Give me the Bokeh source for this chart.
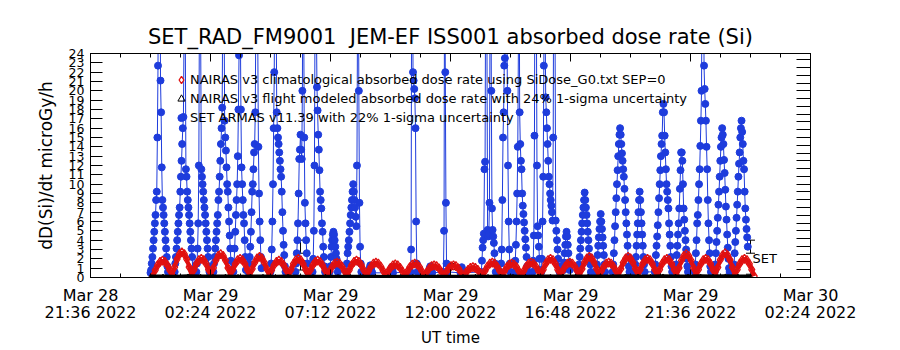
from bokeh.plotting import figure
from bokeh.models import (ColumnDataSource, FixedTicker, LinearAxis, Range1d,
                          Legend, LegendItem, Whisker, TeeHead, Label)
from bokeh.embed import file_html
from bokeh.resources import INLINE

FONT = "DejaVu Sans"
BLUE = "#1e3cdc"
RED = "#e01010"

TITLE = "SET_RAD_FM9001\u00a0 JEM-EF ISS001 absorbed dose rate (Si)"

# time axis: minutes since 2022-03-28 21:36 UT
x_ticks = [0, 288, 576, 864, 1152, 1440, 1728]
x_tick_labels = ["Mar 28\n21:36 2022", "Mar 29\n02:24 2022", "Mar 29\n07:12 2022",
                 "Mar 29\n12:00 2022", "Mar 29\n16:48 2022", "Mar 29\n21:36 2022",
                 "Mar 30\n02:24 2022"]
x_minor = list(range(0, 1729, 72))
y_ticks = list(range(0, 25))
right_ticks = list(range(1, 29))

# SET ARMAS dose rate: passes (start minute, values every SET_DT minutes)
SET_DT = 1.5
set_pass_start = [144, 202, 254, 295, 343, 379, 432, 492, 533, 574, 614, 667, 720, 768,
                  811, 847, 888, 938, 984, 1018, 1061, 1082, 1135, 1171, 1214, 1253,
                  1306, 1354, 1404, 1450, 1498, 1543]
set_pass_vals = [
    [0.5, 0.8, 1.5, 2.2, 3.1, 4.0, 4.9, 5.8, 6.7, 8.3, 9.2, 15.0, 22.7, 40, 60, 40, 21.1, 17.7, 11.8, 8.3, 7.5, 6.7, 5.8, 4.9, 4.0, 3.1, 2.2, 1.2, 0.6],
    [0.6, 1.5, 2.2, 3.1, 4.0, 4.9, 5.8, 6.7, 7.5, 9.2, 10.8, 12.5, 14.3, 16.0, 17.2, 26, 40, 26, 11.6, 10.8, 9.2, 8.3, 7.5, 6.7, 5.8, 4.9, 4.0, 3.1, 2.2, 0.8],
    [0.6, 1.5, 3.1, 5.8, 12.0, 30, 45, 25, 11.6, 10.8, 10.0, 9.2, 8.3, 7.5, 6.7, 5.8, 4.9, 4.0, 3.1, 2.2, 1.2, 0.6],
    [0.6, 1.5, 2.2, 3.1, 4.0, 4.9, 5.8, 6.7, 8.3, 9.2, 10.8, 12.5, 14.3, 16.0, 18.2, 30, 50, 30, 16.8, 15.0, 13.6, 11.8, 10.0, 9.2, 7.5, 6.0, 4.5, 3.1, 1.8, 0.8],
    [0.6, 1.5, 3.1, 4.9, 6.7, 8.3, 10.0, 13.0, 18.0, 23.8, 35, 28, 18.0, 11.8, 10.0, 8.3, 6.7, 5.8, 4.0, 2.2, 0.8],
    [0.6, 1.5, 2.2, 3.3, 4.9, 7.0, 9.2, 10.0, 11.6, 13.4, 14.3, 17.7, 30, 55, 40, 25, 14.0, 9.0, 6.0, 4.0, 2.2, 1.0],
    [0.6, 1.5, 3.0, 6.0, 10.0, 16.0, 22.0, 35, 45, 30, 17.7, 16.0, 15.0, 14.3, 13.4, 12.5, 11.6, 10.8, 9.2, 7.0, 5.0, 3.5, 2.4, 1.2, 0.6],
    [0.6, 1.5, 2.6, 4.0, 5.8, 9.0, 12.7, 13.7, 15.3, 13.7, 12.7, 20, 40, 30, 15.0, 8.0, 5.8, 4.0, 2.6, 1.5, 0.6],
    [0.6, 2.0, 5.0, 12.0, 30, 45, 28, 20.4, 17.9, 15.3, 13.7, 11.5, 9.2, 8.3, 7.4, 5.8, 4.9, 3.3, 2.2, 1.2, 0.6],
    [0.6, 1.2, 2.2, 3.3, 4.0, 4.6, 4.9, 4.6, 4.0, 3.3, 2.6, 2.0, 1.2, 0.6],
    [0.6, 1.5, 2.6, 3.3, 4.0, 4.9, 5.8, 6.7, 7.5, 8.3, 9.2, 10.0, 9.2, 8.3, 7.5, 6.5, 5.5, 12.0, 30, 40, 20, 8.0, 3.3, 1.5, 0.6],
    [0.5, 0.7, 1.0, 1.3, 1.0, 0.7, 0.5],
    [0.5, 0.8, 1.1, 0.8, 0.5],
    [0.6, 3.0, 40, 60, 22.0, 21.1, 20.2, 19.2, 16.0, 6.0, 1.5, 0.6],
    [0.5, 0.7, 1.0, 1.2, 0.9, 0.7, 0.5],
    [0.6, 5.0, 40, 22.0, 8.0, 1.5, 0.6],
    [0.5, 0.8, 1.1, 0.8, 0.5],
    [0.6, 1.8, 3.2, 4.0, 4.7, 11.6, 12.4, 35, 50, 25, 5.1, 4.4, 4.7, 8.0, 30, 45, 20, 7.4, 5.1, 4.4, 3.7, 2.6, 1.5, 0.6],
    [0.6, 1.5, 3.0, 8.3, 15.0, 17.7, 22.7, 23.5, 40, 55, 30, 20, 12.0, 6.0, 3.0, 1.5, 0.6],
    [0.6, 1.8, 3.5, 6.0, 9.0, 14.0, 25, 40, 17.7, 14.3, 12.5, 11.6, 9.0, 7.7, 6.8, 5.9, 5.0, 4.1, 3.2, 2.2, 1.2, 0.6],
    [0.6, 1.8, 4.5, 15.2, 40, 55, 30, 12.0, 5.5, 4.5, 3.3, 2.0, 0.8],
    [0.6, 2.0, 6.0, 10.8, 22.7, 40, 28, 19.3, 17.7, 16.0, 14.3, 12.5, 10.8, 10.0, 9.0, 8.3, 7.7, 7.0, 6.1, 15.0, 40, 55, 25, 6.1, 5.0, 4.0, 3.0, 2.0, 1.2, 0.6],
    [0.8, 1.6, 2.6, 3.5, 4.4, 4.9, 4.4, 3.5, 2.6, 1.6, 0.8],
    [0.6, 1.4, 2.2, 3.1, 4.0, 4.9, 5.8, 6.7, 7.5, 8.3, 9.1, 8.3, 7.5, 6.7, 5.8, 4.9, 4.0, 3.1, 2.2, 1.4, 0.6],
    [0.6, 1.4, 2.4, 3.4, 4.3, 5.2, 6.0, 6.8, 6.0, 5.2, 4.3, 3.4, 2.4, 1.4, 0.6],
    [0.6, 1.4, 2.6, 4.0, 5.5, 7.0, 8.5, 10.0, 11.5, 13.0, 14.3, 15.3, 16.0, 15.3, 14.3, 13.3, 12.5, 11.6, 10.8, 9.5, 8.3, 7.0, 5.8, 4.6, 3.4, 2.2, 1.2, 0.6],
    [0.6, 1.4, 2.2, 3.4, 4.6, 5.8, 7.0, 8.3, 9.2, 8.3, 7.0, 5.8, 4.6, 3.4, 2.2, 1.4, 0.6],
    [0.6, 1.4, 2.4, 3.4, 4.4, 5.6, 7.0, 8.5, 10.0, 11.5, 13.0, 14.3, 15.2, 17.7, 18.6, 17.7, 15.2, 13.4, 11.6, 10.0, 9.2, 8.3, 7.4, 5.8, 4.6, 3.4, 2.2, 1.2, 0.6],
    [0.6, 1.4, 2.4, 3.4, 4.6, 5.8, 7.4, 9.5, 11.5, 13.4, 13.4, 12.5, 10.0, 7.4, 6.2, 5.0, 4.0, 3.0, 2.0, 1.2, 0.6],
    [0.6, 1.4, 2.6, 4.0, 5.8, 6.7, 8.3, 10.0, 11.6, 14.1, 16.8, 20.0, 35, 55, 40, 22.7, 20.2, 18.6, 16.8, 14.0, 11.6, 8.3, 5.8, 4.0, 2.6, 1.2, 0.6],
    [0.6, 1.4, 2.6, 3.8, 5.0, 6.4, 7.8, 9.2, 10.8, 12.5, 14.0, 15.0, 16.0, 15.3, 14.3, 12.6, 11.2, 9.4, 7.6, 6.2, 4.6, 3.2, 2.0, 1.0, 0.6],
    [0.6, 1.4, 2.6, 3.8, 5.0, 6.4, 7.8, 9.2, 10.8, 12.2, 13.4, 15.0, 16.0, 16.8, 15.6, 14.3, 12.5, 11.6, 9.2, 7.4, 6.2, 5.2, 4.3, 3.3],
]

# NAIRAS climatological: one hump per half orbit, values every clim_dt minutes
clim_t0 = 149.5
clim_dt = 5.82
clim_humps = [
    [0.15, 0.78, 1.32, 1.67, 1.8, 1.67, 1.32, 0.78],
    [0.20, 1.12, 1.96, 2.5, 2.7, 2.5, 1.96, 1.12],
    [0.15, 0.85, 1.46, 1.85, 2.0, 1.85, 1.46, 0.85],
    [0.18, 1.04, 1.82, 2.31, 2.5, 2.31, 1.82, 1.04],
    [0.15, 0.85, 1.46, 1.85, 2.0, 1.85, 1.46, 0.85],
    [0.16, 0.93, 1.6, 2.04, 2.2, 2.04, 1.6, 0.93],
    [0.15, 0.78, 1.32, 1.67, 1.8, 1.67, 1.32, 0.78],
    [0.15, 0.85, 1.46, 1.85, 2.0, 1.85, 1.46, 0.85],
    [0.14, 0.78, 1.32, 1.67, 1.8, 1.67, 1.32, 0.78],
    [0.14, 0.7, 1.18, 1.48, 1.6, 1.48, 1.18, 0.7],
    [0.14, 0.78, 1.32, 1.67, 1.8, 1.67, 1.32, 0.78],
    [0.13, 0.7, 1.18, 1.48, 1.6, 1.48, 1.18, 0.7],
    [0.13, 0.63, 1.04, 1.3, 1.4, 1.3, 1.04, 0.63],
    [0.12, 0.66, 1.11, 1.39, 1.5, 1.39, 1.11, 0.66],
    [0.12, 0.59, 0.97, 1.21, 1.3, 1.21, 0.97, 0.59],
    [0.12, 0.59, 0.97, 1.21, 1.3, 1.21, 0.97, 0.59],
    [0.12, 0.51, 0.82, 1.02, 1.1, 1.02, 0.82, 0.51],
    [0.12, 0.7, 1.18, 1.48, 1.6, 1.48, 1.18, 0.7],
    [0.13, 0.66, 1.11, 1.39, 1.5, 1.39, 1.11, 0.66],
    [0.13, 0.7, 1.18, 1.48, 1.6, 1.48, 1.18, 0.7],
    [0.14, 0.85, 1.46, 1.85, 2.0, 1.85, 1.46, 0.85],
    [0.14, 0.7, 1.18, 1.48, 1.6, 1.48, 1.18, 0.7],
    [0.15, 0.93, 1.6, 2.04, 2.2, 2.04, 1.6, 0.93],
    [0.15, 0.7, 1.18, 1.48, 1.6, 1.48, 1.18, 0.7],
    [0.15, 0.93, 1.6, 2.04, 2.2, 2.04, 1.6, 0.93],
    [0.15, 0.85, 1.46, 1.85, 2.0, 1.85, 1.46, 0.85],
    [0.16, 0.85, 1.46, 1.85, 2.0, 1.85, 1.46, 0.85],
    [0.17, 1.04, 1.82, 2.31, 2.5, 2.31, 1.82, 1.04],
    [0.16, 0.85, 1.46, 1.85, 2.0, 1.85, 1.46, 0.85],
    [0.17, 1.08, 1.89, 2.4, 2.6, 2.4, 1.89, 1.08],
    [0.16, 0.85, 1.46, 1.85, 2.0, 1.85, 1.46, 0.85],
]
clim_last = 0.15

# NAIRAS flight modeled dose rate, every 30 minutes
flight_t0 = 144
flight_dt = 30
flight_vals = [0.10, 0.12, 0.09, 0.13, 0.11, 0.10, 0.12, 0.09, 0.11, 0.10, 0.08, 0.10,
               0.09, 0.08, 0.09, 0.07, 0.08, 0.07, 0.08, 0.06, 0.07, 0.08, 0.07, 0.08,
               0.09, 0.08, 0.10, 0.09, 0.11, 0.10, 0.09, 0.11, 0.10, 0.12, 0.11, 0.10,
               0.12, 0.11, 0.13, 0.12, 0.11, 0.13, 0.12, 0.11, 0.13, 0.12, 0.14, 0.12, 0.11]

# 1-sigma error bars
err_t = [504, 504, 864, 1224, 1584, 1584]
err_lo = [2.6, 0.8, 0.85, 0.2, 2.6, 0.0]
err_hi = [4.0, 1.8, 1.5, 1.05, 4.0, 0.35]

legend_labels = [
    "NAIRAS v3 climatological absorbed dose rate using SiDose_G0.txt SEP=0",
    "NAIRAS v3 flight modeled absorbed dose rate with 24% 1-sigma uncertainty",
    "SET ARMAS v11.39 with 22% 1-sigma uncertainty",
]

# ---- assemble series ----
set_t, set_v = [], []
for start, vals in zip(set_pass_start, set_pass_vals):
    for i, v in enumerate(vals):
        set_t.append(start + i * SET_DT)
        set_v.append(v)

clim_v = [v for hump in clim_humps for v in hump] + [clim_last]
clim_t = [clim_t0 + i * clim_dt for i in range(len(clim_v))]
flight_t = [flight_t0 + i * flight_dt for i in range(len(flight_vals))]

p = figure(width=900, height=350, output_backend="svg", toolbar_location=None,
           x_range=Range1d(0, 1728), y_range=Range1d(0, 24),
           min_border_left=90, min_border_right=90, min_border_top=53, min_border_bottom=73,
           title=TITLE, background_fill_color="white", border_fill_color="white")
p.xgrid.visible = False
p.ygrid.visible = False
p.outline_line_color = "black"
p.outline_line_width = 1

p.title.text_font = FONT
p.title.text_font_size = "21px"
p.title.text_font_style = "normal"
p.title.align = "center"
p.title.text_color = "black"

xa = p.xaxis[0]
xa.ticker = FixedTicker(ticks=x_ticks, minor_ticks=x_minor)
xa.major_label_overrides = {t: lab for t, lab in zip(x_ticks, x_tick_labels)}
xa.major_label_text_font = FONT
xa.major_label_text_font_size = "16px"
xa.major_label_text_line_height = 0.9
xa.major_label_text_color = "black"
xa.major_label_standoff = 8
xa.major_tick_in = 8
xa.major_tick_out = 0
xa.minor_tick_in = 4
xa.minor_tick_out = 0
xa.axis_label = "UT time"
xa.axis_label_text_font = FONT
xa.axis_label_text_font_size = "15px"
xa.axis_label_text_font_style = "normal"
xa.axis_label_text_color = "black"
xa.axis_label_standoff = 4
xa.axis_line_color = "black"

ya = p.yaxis[0]
ya.ticker = FixedTicker(ticks=y_ticks, minor_ticks=[])
ya.major_label_text_font = FONT
ya.major_label_text_font_size = "12.5px"
ya.major_label_text_color = "black"
ya.major_label_standoff = 6
ya.major_tick_in = 12
ya.major_tick_out = 0
ya.minor_tick_in = 0
ya.minor_tick_out = 0
ya.axis_label = "dD(Si)/dt microGy/h"
ya.axis_label_text_font = FONT
ya.axis_label_text_font_size = "17px"
ya.axis_label_text_font_style = "normal"
ya.axis_label_text_color = "black"
ya.axis_label_standoff = 10
ya.axis_line_color = "black"

top = LinearAxis(ticker=FixedTicker(ticks=x_ticks, minor_ticks=x_minor),
                 major_label_overrides={t: "" for t in x_ticks},
                 major_tick_in=8, major_tick_out=0,
                 minor_tick_in=4, minor_tick_out=0, major_label_standoff=0,
                 axis_line_color="black")
p.add_layout(top, "above")

p.extra_y_ranges = {"r": Range1d(0, 28.8)}
right = LinearAxis(y_range_name="r", ticker=FixedTicker(ticks=right_ticks, minor_ticks=[]),
                   major_label_overrides={t: "" for t in right_ticks},
                   major_tick_in=14, major_tick_out=0,
                   minor_tick_in=0, minor_tick_out=0, major_label_standoff=0,
                   axis_line_color="black")
p.add_layout(right, "right")

# ---- data ----
p.line(set_t, set_v, line_color=BLUE, line_width=1)
r_set = p.scatter(set_t, set_v, marker="circle", size=7, fill_color=BLUE, line_color=BLUE)

p.line(clim_t, clim_v, line_color=RED, line_width=4)
r_clim = p.scatter(clim_t, clim_v, marker="diamond", size=9, fill_color=None,
                   line_color=RED, line_width=1.3)

p.line(flight_t, flight_vals, line_color="black", line_width=4)
r_flight = p.scatter(flight_t, flight_vals, marker="triangle", size=4, fill_color=None,
                     line_color="black", line_width=1)

err_src = ColumnDataSource(dict(t=err_t, lo=err_lo, hi=err_hi))
p.add_layout(Whisker(base="t", lower="lo", upper="hi", source=err_src, dimension="height",
                     line_color="black", line_width=1,
                     upper_head=TeeHead(size=9, line_color="black", line_width=1),
                     lower_head=TeeHead(size=9, line_color="black", line_width=1)))

p.add_layout(Label(x=err_t[4], y=err_lo[4], text="SET", x_offset=2, y_offset=2,
                   text_baseline="top", text_font=FONT, text_font_size="13px",
                   text_color="black"))

legend = Legend(items=[LegendItem(label=legend_labels[0], renderers=[r_clim]),
                       LegendItem(label=legend_labels[1], renderers=[r_flight]),
                       LegendItem(label=legend_labels[2], renderers=[r_set])],
                location=(82, 150), orientation="vertical",
                background_fill_alpha=0, border_line_alpha=0, padding=0, margin=0,
                spacing=0, label_height=19, glyph_height=19, glyph_width=18,
                label_standoff=0, label_text_font=FONT, label_text_font_size="13px",
                label_text_color="black")
p.add_layout(legend)

open("out.html", "w").write(file_html(p, INLINE))
